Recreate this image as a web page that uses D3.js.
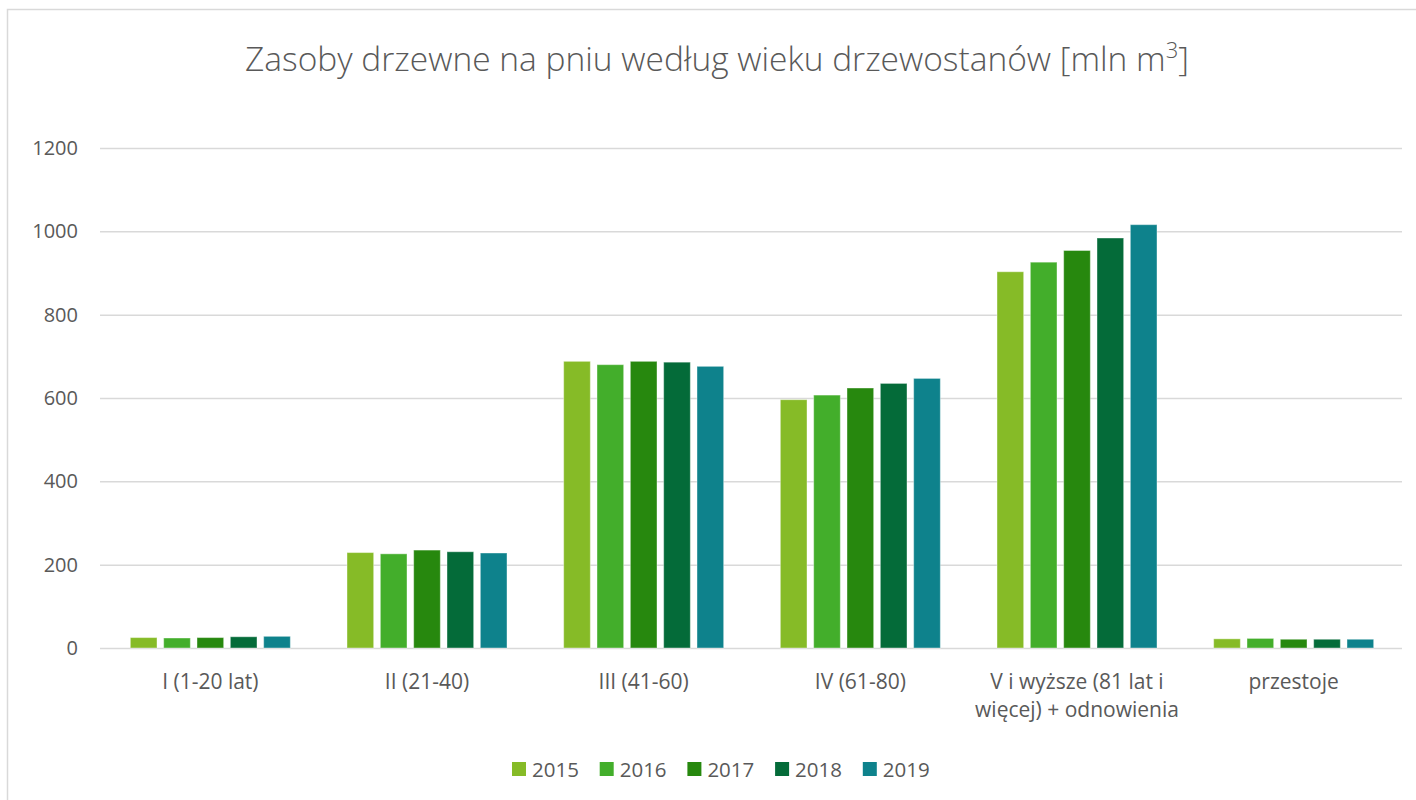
<!DOCTYPE html>
<html>
<head>
<meta charset="utf-8">
<script src="https://cdn.jsdelivr.net/npm/d3@7"></script>
<style>
  body { margin: 0; background: #fff; }
  text { font-family: "Open Sans", Lato, sans-serif; fill: #595959; }
</style>
</head>
<body>
<div id="container"></div>
<script>
/* CONSTANTS AND GLOBALS */
const width = 1416;
const height = 800;
const margin = { top: 148, right: 14, bottom: 152, left: 102 };

// DATA
const categories = [
    ["I (1-20 lat)"],
    ["II (21-40)"],
    ["III (41-60)"],
    ["IV (61-80)"],
    ["V i wyższe (81 lat i", "więcej) + odnowienia"],
    ["przestoje"]
];
const years = ["2015", "2016", "2017", "2018", "2019"];
const values2015 = [25, 229, 688, 596, 903, 22];
const values2016 = [24, 226, 680, 607, 926, 23];
const values2017 = [25, 235, 688, 624, 954, 21];
const values2018 = [27, 231, 686, 635, 984, 21];
const values2019 = [28, 228, 676, 647, 1016, 21];
const yTicks = [0, 200, 400, 600, 800, 1000, 1200];
const colors = ["#86bb27", "#43ae2b", "#27880e", "#046b39", "#0e828c"];

const series = [values2015, values2016, values2017, values2018, values2019];
const catKeys = categories.map(c => c.join(" "));
const rows = catKeys.map((k, i) => ({
    key: k,
    vals: years.map((y, j) => ({ year: y, value: series[j][i] }))
}));

// CREATE SVG
const svg = d3.select("#container")
    .append("svg")
    .attr("width", width)
    .attr("height", height);

// CHART BORDER
svg.append("rect")
    .attr("x", 7.5)
    .attr("y", 9.5)
    .attr("width", width + 10)
    .attr("height", height + 10)
    .attr("fill", "none")
    .attr("stroke", "#d9d9d9")
    .attr("stroke-width", 1.5);

/* SCALES */
const x0 = d3.scaleBand()
    .domain(catKeys)
    .range([margin.left, width - margin.right])
    .paddingInner(0.2308)
    .paddingOuter(0.1154);

const x1 = d3.scaleBand()
    .domain(years)
    .range([0, x0.bandwidth()])
    .paddingInner(0.2)
    .paddingOuter(0.1);

const yScale = d3.scaleLinear()
    .domain([0, 1200])
    .range([height - margin.bottom, margin.top]);

// GRIDLINES + Y AXIS
const yAxis = d3.axisLeft(yScale)
    .tickValues(yTicks)
    .tickFormat(d3.format("d"))
    .tickSize(-(width - margin.right - margin.left + 2))
    .tickPadding(22);

svg.append("g")
    .attr("class", "axis")
    .attr("transform", "translate(" + (margin.left - 2) + ",0)")
    .call(yAxis)
    .call(g => g.select(".domain").remove())
    .call(g => g.selectAll("line").attr("stroke", "#d9d9d9").attr("stroke-width", 1.5))
    .call(g => g.selectAll("text")
        .style("font-size", "20px")
        .style("font-family", "'Open Sans', sans-serif")
        .attr("fill", "#595959"));

// BARS
const groups = svg.selectAll("g.cat")
    .data(rows)
    .join("g")
    .attr("class", "cat")
    .attr("transform", d => "translate(" + x0(d.key) + ",0)");

groups.selectAll("rect")
    .data(d => d.vals)
    .join("rect")
    .attr("x", d => x1(d.year))
    .attr("y", d => yScale(d.value))
    .attr("width", x1.bandwidth())
    .attr("height", d => yScale(0) - yScale(d.value))
    .attr("fill", (d, i) => colors[i])
    .attr("stroke", "#fff")
    .attr("stroke-opacity", 0.4)
    .attr("stroke-width", 1);

// X AXIS LABELS
const xLabels = svg.selectAll("text.xlab")
    .data(categories)
    .join("text")
    .attr("class", "xlab")
    .attr("text-anchor", "middle")
    .style("font-size", "21px")
    .attr("transform", (d, i) => "translate(" + (x0(catKeys[i]) + x0.bandwidth() / 2) + "," + 689 + ")");

xLabels.selectAll("tspan")
    .data(d => d)
    .join("tspan")
    .attr("x", 0)
    .attr("dy", (d, i) => i === 0 ? 0 : 28)
    .text(d => d);

// TITLE
const title = svg.append("text")
    .attr("x", 717)
    .attr("y", 71)
    .attr("text-anchor", "middle")
    .style("font-size", "33.5px")
    .style("font-weight", 300);
title.append("tspan").text("Zasoby drzewne na pniu według wieku drzewostanów [mln m");
title.append("tspan").attr("dy", -13).style("font-size", "22px").text("3");
title.append("tspan").attr("dy", 13).text("]");

// LEGEND
const legendX = d3.scaleBand()
    .domain(years)
    .range([512, 950.5]);

const legend = svg.selectAll("g.legend")
    .data(years)
    .join("g")
    .attr("class", "legend")
    .attr("transform", d => "translate(" + legendX(d) + ",762)");

legend.append("rect")
    .attr("width", 14)
    .attr("height", 14)
    .attr("fill", (d, i) => colors[i]);

legend.append("text")
    .attr("x", 20)
    .attr("y", 14.5)
    .style("font-size", "20.5px")
    .text(d => d);
</script>
</body>
</html>
